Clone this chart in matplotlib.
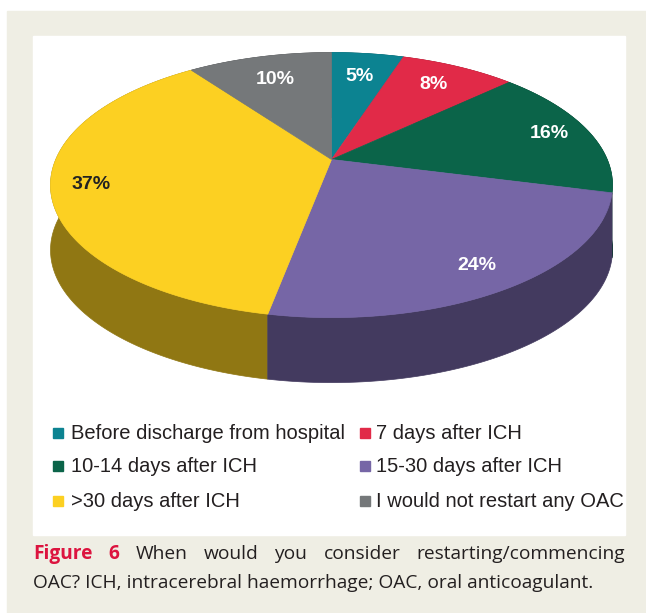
import numpy as np
import matplotlib.pyplot as plt
from matplotlib.patches import Polygon, Rectangle
from matplotlib.colors import to_rgb

# data
categories = ["Before discharge from hospital", "7 days after ICH",
              "10-14 days after ICH", "15-30 days after ICH",
              ">30 days after ICH", "I would not restart any OAC"]
values = [5, 8, 16, 24, 37, 10]
colors = ["#0C8391", "#E12A48", "#0B6449", "#7666A6", "#FCD022", "#75787A"]
label_colors = ["white", "white", "white", "white", "#222222", "white"]
label_radius = [0.75, 0.78, 0.85, 0.85, 0.86, 0.75]

W, H = 646, 613
fig = plt.figure(figsize=(W / 100, H / 100), dpi=100)
ax = fig.add_axes([0, 0, 1, 1])
ax.set_xlim(0, W)
ax.set_ylim(H, 0)
ax.axis("off")

# frame
ax.add_patch(Rectangle((7, 11), W - 7, H - 11, color="#EFEEE4", zorder=0))
ax.add_patch(Rectangle((33, 36), 592, 499, color="white", zorder=1))

# perspective pie geometry
CX, CY = 331.5, 159.5
A, B, K = 275.7, 127.6, 0.193
DEP = 65


def proj(th, r=1.0):
    u = r * np.sin(th)
    v = -r * np.cos(th)
    w = 1 - K * v
    return CX + A * u / w, CY + B * v / w


def darker(c, f=0.57):
    return tuple(x * f for x in to_rgb(c))


bounds = np.concatenate([[0], np.cumsum(values)]) / sum(values) * 2 * np.pi

# side walls, back to front
sides = []
for i in range(len(values)):
    th = np.linspace(bounds[i], bounds[i + 1], 120)
    x, y = proj(th)
    pts = np.column_stack([np.concatenate([x, x[::-1]]),
                           np.concatenate([y, y[::-1] + DEP])])
    sides.append((np.max(-np.cos(th)), pts, darker(colors[i])))
sides.sort(key=lambda s: s[0])
for _, pts, c in sides:
    ax.add_patch(Polygon(pts, closed=True, facecolor=c, edgecolor=c, lw=0.5, zorder=2))

# top faces
for i in range(len(values)):
    th = np.linspace(bounds[i], bounds[i + 1], 120)
    x, y = proj(th)
    pts = np.column_stack([np.concatenate([[CX], x]), np.concatenate([[CY], y])])
    ax.add_patch(Polygon(pts, closed=True, facecolor=colors[i], edgecolor=colors[i],
                         lw=0.5, zorder=3))
    mid = (bounds[i] + bounds[i + 1]) / 2
    lx, ly = proj(mid, label_radius[i])
    ax.text(lx, ly, f"{values[i]}%", color=label_colors[i], fontsize=14,
            fontweight="bold", family="Liberation Sans", ha="center", va="center", zorder=4)

# legend
rows = [433, 466, 501]
cols = [(53, 71), (360, 376)]
for i, cat in enumerate(categories):
    mx, tx = cols[i % 2]
    ry = rows[i // 2]
    ax.add_patch(Rectangle((mx, ry - 5), 10, 10, color=colors[i], zorder=4))
    ax.text(tx, ry + 0.5, cat, fontsize=14.5, family="Liberation Sans", color="#231F20",
            ha="left", va="center", zorder=4)

# caption
cap_font = "Open Sans"
line2 = "OAC? ICH, intracerebral haemorrhage; OAC, oral anticoagulant."
t2 = ax.text(33, 588, line2, fontsize=14, family=cap_font, color="#231F20",
             ha="left", va="baseline", zorder=4)
fig.canvas.draw()
r = fig.canvas.get_renderer()
cap_fs = 14 * 565 / t2.get_window_extent(r).width
t2.set_fontsize(cap_fs)

# first line justified
words = ["Figure", "6", "When", "would", "you", "consider", "restarting/commencing"]
objs = []
for j, wd in enumerate(words):
    bold = j < 2
    objs.append(ax.text(0, 559, wd, fontsize=cap_fs, family=cap_font,
                        fontweight="bold" if bold else "normal",
                        color="#DC143F" if bold else "#231F20",
                        ha="left", va="baseline", zorder=4))
fig.canvas.draw()
widths = [o.get_window_extent(r).width for o in objs]
gap = (625 - 33 - sum(widths)) / (len(words) - 1)
xpos = 33
for o, wdt in zip(objs, widths):
    o.set_x(xpos)
    xpos += wdt + gap

fig.savefig("out.png", dpi=100)
